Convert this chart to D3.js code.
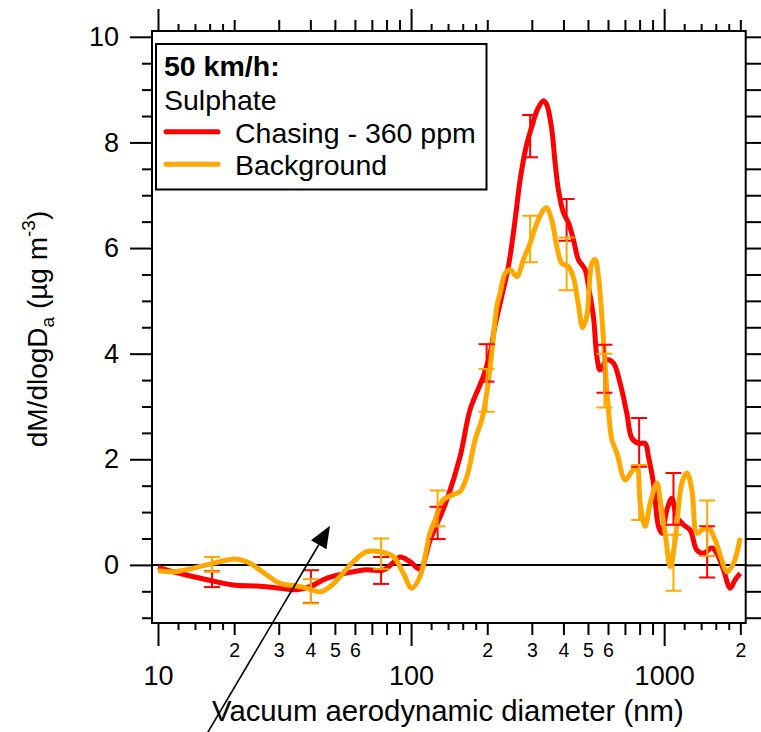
<!DOCTYPE html>
<html>
<head>
<meta charset="utf-8">
<script src="https://cdn.jsdelivr.net/npm/d3@7"></script>
<style>
  html, body { margin: 0; padding: 0; background: #fff; }
  svg { display: block; font-family: "Liberation Sans", Arial, Helvetica, sans-serif; }
</style>
</head>
<body>
<svg id="chart" width="761" height="732"></svg>
<script>
// --- data ---
// Chasing - 360 ppm (red)
var chasingD = [10, 11.5, 15.6, 19.8, 24.6, 30.4, 35.4, 39.9, 46.6, 55.9,
  67, 77.5, 84.9, 90.5, 99.1, 108.5, 118.9, 130.2, 138.4, 156.2,
  171.1, 193.1, 205.3, 215, 226, 242.4, 257.6, 269.7, 284.9, 300,
  315.6, 333.4, 343.9, 359.8, 370.9, 382.2, 399.9, 418.5, 438, 458.4,
  487.3, 502.2, 525.6, 542, 558.5, 593.4, 630.3, 670, 712.1, 745.2,
  791.4, 841.3, 867, 907.3, 949.5, 979.3, 1024.9, 1072.5, 1122.6, 1192,
  1266.8, 1346.5, 1429.8, 1543.8, 1615.7, 1715.5, 1823.4, 1908.2, 1997.2];
var chasingV = [-0.04, -0.13, -0.28, -0.38, -0.40, -0.44, -0.47, -0.41, -0.25, -0.15,
  -0.09, -0.10, 0.04, 0.15, 0.06, -0.08, 0.47, 0.91, 1.23, 2.05,
  2.94, 3.57, 4.01, 4.55, 5.00, 5.65, 6.53, 7.29, 7.92, 8.30,
  8.62, 8.79, 8.71, 8.24, 7.61, 7.10, 6.67, 6.48, 6.16, 5.78,
  5.59, 5.27, 4.70, 3.95, 3.69, 3.88, 3.82, 3.44, 2.87, 2.40,
  2.30, 2.30, 2.05, 1.55, 0.73, 0.60, 1.04, 1.26, 0.91, 0.76,
  0.66, 0.28, 0.22, 0.32, 0.22, -0.09, -0.44, -0.28, -0.16];

// Background (orange)
var backgroundD = [10, 11.5, 13.8, 16.5, 20.2, 23.1, 26.9, 30.4, 35.3, 38.7,
  43.7, 47.9, 52.4, 59.1, 66.8, 75.4, 85.1, 93.2, 100.6, 108.5,
  118.9, 124.4, 133.8, 146.6, 156.2, 166.1, 179.1, 190.3, 199.2, 208.4,
  218.2, 224.9, 235.3, 246.3, 261.7, 277.9, 295.3, 314, 333.4, 343.9,
  359.8, 376.6, 394.2, 418.5, 438, 458.4, 476.3, 495, 518, 533.8,
  550, 567.4, 584.7, 602.5, 621.4, 650.4, 701.3, 745.2, 779.8, 803.7,
  841.3, 880.5, 935.6, 964.3, 1009.3, 1056.1, 1105.3, 1174.9, 1229.4, 1287,
  1346.5, 1409.3, 1496.6, 1590.6, 1690.4, 1769.2, 1878.9, 1997.2];
var backgroundV = [-0.11, -0.13, -0.06, 0.03, 0.11, 0.03, -0.19, -0.35, -0.40, -0.44,
  -0.51, -0.41, -0.22, 0.06, 0.25, 0.25, 0.16, -0.16, -0.44, -0.22,
  0.61, 0.85, 1.23, 1.33, 1.39, 1.67, 2.37, 2.75, 3.26, 4.02,
  4.89, 5.15, 5.52, 5.59, 5.46, 5.78, 6.09, 6.47, 6.72, 6.76,
  6.53, 6.03, 5.71, 5.65, 5.44, 4.92, 4.49, 4.72, 5.71, 5.78,
  5.46, 4.70, 3.76, 2.94, 2.37, 2.12, 1.61, 1.77, 1.86, 1.17,
  0.73, 1.17, 1.55, 1.23, 0.60, -0.03, 0.47, 1.55, 1.74, 1.42,
  0.60, 0.66, 0.70, 0.47, 0.09, -0.13, 0.03, 0.51];

// error bars (same diameters for both series)
var barD = [16.35, 40.2, 76.1, 127.3, 198.8, 295.4, 411.7, 580.8, 796.5, 1088.5, 1479];
var chasingLo = [-0.42, -0.72, -0.36, 0.49, 3.47, 7.72, 6.14, 3.26, 1.86, 0.76, -0.24];
var chasingHi = [-0.12, -0.10, 0.15, 1.10, 4.18, 8.52, 6.93, 4.17, 2.78, 1.74, 0.73];
var backgroundLo = [-0.13, -0.73, -0.08, 0.73, 2.90, 5.73, 5.20, 2.98, 0.85, -0.49, 0.17];
var backgroundHi = [0.15, -0.27, 0.50, 1.41, 3.71, 6.61, 6.20, 4.00, 1.89, 0.57, 1.22];

// axis ticks and labels
var yMajor = [0, 2, 4, 6, 8, 10];
var decades = [10, 100, 1000];
var mults = [2, 3, 4, 5, 6, 7, 8, 9];
var subMults = [1.2, 1.4, 1.6, 1.8];
var labelledMults = [2, 3, 4, 5, 6];

var legendTitle = "50 km/h:";
var legendSub = "Sulphate";
var seriesNames = ["Chasing - 360 ppm", "Background"];
var colors = ["#ff0000", "#ffa800"];

// annotation arrow (data coords): tail below the axis, tip in the plot
var arrowFrom = [15.6, -3.2], arrowTo = [47.8, 0.74];

// --- layout ---
var P = { left: 152, right: 745.7, top: 31, bottom: 623 };
var x = d3.scaleLog().domain([9.47, 2100]).range([P.left, P.right]);
var y = d3.scaleLinear().domain([-1.1, 10.11]).range([P.bottom, P.top]);
var svg = d3.select("#chart");

function inX(v) { var d = x.domain(); return v >= d[0] && v <= d[1]; }
var xMajor = decades.filter(inX);
var xMid = [], xSmall = [];
decades.forEach(function (d) {
  mults.forEach(function (m) { if (inX(m * d)) xMid.push(m * d); });
  subMults.forEach(function (m) { if (inX(m * d)) xSmall.push(m * d); });
});
var yMinor = d3.range(-1, 10.01, 0.5).filter(function (v) { return yMajor.indexOf(v) < 0; });

function styleAxis(g, fs) {
  g.select(".domain").remove();
  g.attr("font-family", null).attr("font-size", fs);
  g.selectAll("line").attr("stroke", "#000").attr("stroke-width", 2);
  g.selectAll("text").attr("fill", "#000");
}

// zero line
svg.append("line")
  .attr("x1", P.left).attr("x2", P.right).attr("y1", y(0)).attr("y2", y(0))
  .attr("stroke", "#000").attr("stroke-width", 2);

// bottom axis
svg.append("g").attr("transform", "translate(0," + P.bottom + ")")
  .call(d3.axisBottom(x).tickValues(xMajor).tickSize(23).tickPadding(20).tickFormat(d3.format("d")))
  .call(styleAxis, 27);
svg.append("g").attr("transform", "translate(0," + P.bottom + ")")
  .call(d3.axisBottom(x).tickValues(xMid).tickSize(12).tickPadding(8)
    .tickFormat(function (v) {
      var m = Math.round(v / Math.pow(10, Math.floor(Math.log10(v) + 1e-9)));
      return labelledMults.indexOf(m) >= 0 ? String(m) : "";
    }))
  .call(styleAxis, 19.5);
svg.append("g").attr("transform", "translate(0," + P.bottom + ")")
  .call(d3.axisBottom(x).tickValues(xSmall).tickSize(7).tickFormat(""))
  .call(styleAxis, 10);

// top axis (mirror, no labels)
[[xMajor, 22], [xMid, 11], [xSmall, 7]].forEach(function (t) {
  svg.append("g").attr("transform", "translate(0," + P.top + ")")
    .call(d3.axisTop(x).tickValues(t[0]).tickSize(t[1]).tickFormat(""))
    .call(styleAxis, 10);
});

// left axis
svg.append("g").attr("transform", "translate(" + P.left + ",0)")
  .call(d3.axisLeft(y).tickValues(yMajor).tickSize(22).tickPadding(11).tickFormat(d3.format("d")))
  .call(styleAxis, 27);
svg.append("g").attr("transform", "translate(" + P.left + ",0)")
  .call(d3.axisLeft(y).tickValues(yMinor).tickSize(10).tickFormat(""))
  .call(styleAxis, 10);

// right axis (mirror)
svg.append("g").attr("transform", "translate(" + P.right + ",0)")
  .call(d3.axisRight(y).tickValues(yMajor.concat(yMinor)).tickSize(16).tickFormat(""))
  .call(styleAxis, 10);

// frame
svg.append("rect")
  .attr("x", P.left).attr("y", P.top)
  .attr("width", P.right - P.left).attr("height", P.bottom - P.top)
  .attr("fill", "none").attr("stroke", "#000").attr("stroke-width", 2);

// clip
svg.append("clipPath").attr("id", "clip").append("rect")
  .attr("x", P.left).attr("y", P.top)
  .attr("width", P.right - P.left).attr("height", P.bottom - P.top);
var plot = svg.append("g").attr("clip-path", "url(#clip)");

var line = d3.line()
  .x(function (d) { return x(d[0]); })
  .y(function (d) { return y(d[1]); })
  .curve(d3.curveCatmullRom.alpha(0.5));

var series = [
  { d: chasingD, v: chasingV, lo: chasingLo, hi: chasingHi, color: colors[0] },
  { d: backgroundD, v: backgroundV, lo: backgroundLo, hi: backgroundHi, color: colors[1] }
];

series.forEach(function (s) {
  plot.append("path")
    .datum(d3.zip(s.d, s.v))
    .attr("d", line)
    .attr("fill", "none").attr("stroke", s.color)
    .attr("stroke-width", 5).attr("stroke-linejoin", "round");
});

series.forEach(function (s) {
  var g = plot.append("g").attr("stroke", s.color).attr("stroke-width", 2);
  barD.forEach(function (d, i) {
    var cx = x(d), y0 = y(s.lo[i]), y1 = y(s.hi[i]);
    g.append("line").attr("x1", cx).attr("x2", cx).attr("y1", y0).attr("y2", y1);
    g.append("line").attr("x1", cx - 8).attr("x2", cx + 8).attr("y1", y0).attr("y2", y0);
    g.append("line").attr("x1", cx - 8).attr("x2", cx + 8).attr("y1", y1).attr("y2", y1);
  });
});

// legend
var lg = svg.append("g");
lg.append("rect").attr("x", 156).attr("y", 44).attr("width", 330.5).attr("height", 145.5)
  .attr("fill", "#fff").attr("stroke", "#000").attr("stroke-width", 2);
lg.append("text").attr("x", 164).attr("y", 76).attr("font-size", 28.5).attr("font-weight", "bold")
  .text(legendTitle);
lg.append("text").attr("x", 164).attr("y", 110).attr("font-size", 28.5).text(legendSub);
seriesNames.forEach(function (name, i) {
  var yy = 131.7 + i * 32.6;
  lg.append("line").attr("x1", 166).attr("x2", 218).attr("y1", yy).attr("y2", yy)
    .attr("stroke", colors[i]).attr("stroke-width", 5).attr("stroke-linecap", "round");
  lg.append("text").attr("x", 235).attr("y", yy + 11).attr("font-size", 28.5).text(name);
});

// axis titles
svg.append("text")
  .attr("x", (P.left + P.right) / 2 - 1).attr("y", 721)
  .attr("text-anchor", "middle").attr("font-size", 29.3)
  .text("Vacuum aerodynamic diameter (nm)");

var yt = svg.append("text")
  .attr("transform", "translate(47," + ((P.top + P.bottom) / 2 + 2) + ") rotate(-90)")
  .attr("text-anchor", "middle").attr("font-size", 28);
yt.append("tspan").text("dM/dlogD");
yt.append("tspan").attr("font-size", 19).attr("dy", 7).text("a");
yt.append("tspan").attr("dy", -7).text(" (µg m");
yt.append("tspan").attr("font-size", 19).attr("dy", -12).text("-3");
yt.append("tspan").attr("dy", 12).text(")");

// arrow annotation
var ax0 = x(arrowFrom[0]), ay0 = y(arrowFrom[1]), ax1 = x(arrowTo[0]), ay1 = y(arrowTo[1]);
var len = Math.hypot(ax1 - ax0, ay1 - ay0), ux = (ax1 - ax0) / len, uy = (ay1 - ay0) / len;
var headL = 22, headW = 9;
var bx = ax1 - ux * headL, by = ay1 - uy * headL;
svg.append("line").attr("x1", ax0).attr("y1", ay0).attr("x2", bx).attr("y2", by)
  .attr("stroke", "#000").attr("stroke-width", 1.6);
svg.append("path")
  .attr("d", "M" + ax1 + "," + ay1 +
    "L" + (bx - uy * headW) + "," + (by + ux * headW) +
    "L" + (bx + uy * headW) + "," + (by - ux * headW) + "Z")
  .attr("fill", "#000");
</script>
</body>
</html>
